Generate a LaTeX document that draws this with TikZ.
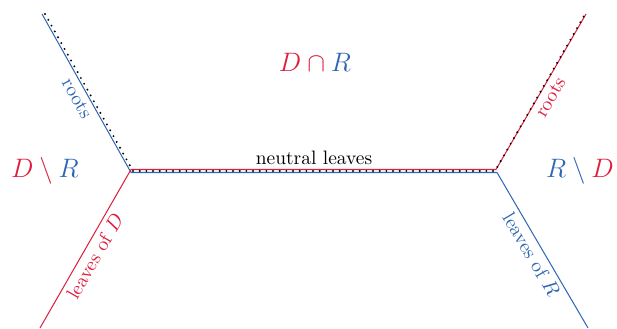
\documentclass[tikz,border=0pt]{standalone}
\usepackage{tikz}
\definecolor{dred}{RGB}{222,30,62}
\definecolor{rblue}{RGB}{46,102,180}
\tikzset{
  redline/.style={draw=dred,line width=0.55pt},
  blueline/.style={draw=rblue,line width=0.55pt},
  dotline/.style={draw=black,line width=1.15pt,line cap=round,dash pattern=on 0pt off 3.6pt},
  lbl/.style={font=\fontsize{10.5}{12}\selectfont,inner sep=2.3pt},
  setlbl/.style={font=\Large}
}
\begin{document}
\begin{tikzpicture}[x=0.54pt,y=-0.54pt]
\useasboundingbox (0,0) rectangle (617,329);
% named points
\coordinate (btl) at (42,14);
\coordinate (bjl) at (131,172.5);
\coordinate (bjr) at (497,172.5);
\coordinate (bbr) at (588,328);
\coordinate (rbl) at (40,328);
\coordinate (rjl) at (131,169.5);
\coordinate (rjr) at (496,169.5);
\coordinate (rtr) at (586,14);
\coordinate (dtl) at (45,14);
\coordinate (djl) at (133,171);
\coordinate (djr) at (495,171);
\coordinate (dtr) at (584,16);
% blue path
\draw[blueline] (btl) -- node[lbl,sloped,below,pos=0.5,text=rblue] {roots} (bjl) -- (bjr)
  -- node[lbl,sloped,below,pos=0.49,text=rblue] {leaves of $R$} (bbr);
% red path
\draw[redline] (rbl) -- node[lbl,sloped,below,pos=0.49,text=dred] {leaves of $D$} (rjl) -- (rjr)
  -- node[lbl,sloped,below,pos=0.5,text=dred] {roots} (rtr);
% dotted path
\draw[dotline] (dtl) -- (djl) -- (djr) -- (dtr);
\node[lbl,above] (nl) at (314,169.5) {neutral leaves};
% set labels
\node[setlbl] (dr) at (45,171) {$\color{dred}D\setminus\color{rblue}R$};
\node[setlbl] (rd) at (580,171) {$\color{rblue}R\setminus\color{dred}D$};
\node[setlbl] (dcr) at (315,62) {$\color{dred}D\cap\color{rblue}R$};
\end{tikzpicture}
\end{document}
